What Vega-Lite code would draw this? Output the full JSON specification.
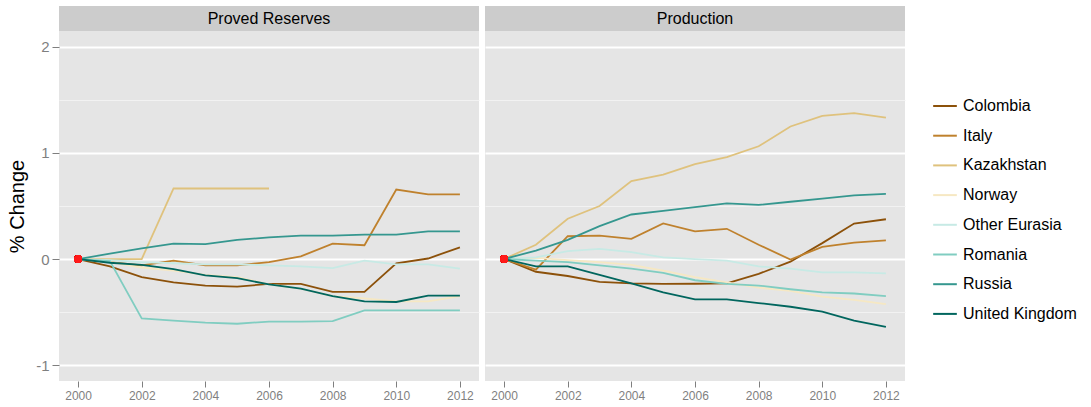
{
  "$schema": "https://vega.github.io/schema/vega-lite/v6.json",
  "padding": {"left": 7, "top": 6, "right": 5, "bottom": 5},
  "background": "white",
  "config": {
    "font": "Liberation Sans",
    "view": {"stroke": null},
    "concat": {"spacing": 6}
  },
  "datasets": {
    "d": [
      {"panel": "Proved Reserves", "country": "Colombia", "year": 2000, "value": 0},
      {"panel": "Proved Reserves", "country": "Colombia", "year": 2001, "value": -0.07},
      {"panel": "Proved Reserves", "country": "Colombia", "year": 2002, "value": -0.17},
      {"panel": "Proved Reserves", "country": "Colombia", "year": 2003, "value": -0.22},
      {"panel": "Proved Reserves", "country": "Colombia", "year": 2004, "value": -0.25},
      {"panel": "Proved Reserves", "country": "Colombia", "year": 2005, "value": -0.26},
      {"panel": "Proved Reserves", "country": "Colombia", "year": 2006, "value": -0.235},
      {"panel": "Proved Reserves", "country": "Colombia", "year": 2007, "value": -0.235},
      {"panel": "Proved Reserves", "country": "Colombia", "year": 2008, "value": -0.31},
      {"panel": "Proved Reserves", "country": "Colombia", "year": 2009, "value": -0.31},
      {"panel": "Proved Reserves", "country": "Colombia", "year": 2010, "value": -0.04},
      {"panel": "Proved Reserves", "country": "Colombia", "year": 2011, "value": 0.005},
      {"panel": "Proved Reserves", "country": "Colombia", "year": 2012, "value": 0.11},
      {"panel": "Proved Reserves", "country": "Italy", "year": 2000, "value": 0},
      {"panel": "Proved Reserves", "country": "Italy", "year": 2001, "value": -0.03},
      {"panel": "Proved Reserves", "country": "Italy", "year": 2002, "value": -0.06},
      {"panel": "Proved Reserves", "country": "Italy", "year": 2003, "value": -0.015},
      {"panel": "Proved Reserves", "country": "Italy", "year": 2004, "value": -0.06},
      {"panel": "Proved Reserves", "country": "Italy", "year": 2005, "value": -0.06},
      {"panel": "Proved Reserves", "country": "Italy", "year": 2006, "value": -0.03},
      {"panel": "Proved Reserves", "country": "Italy", "year": 2007, "value": 0.025},
      {"panel": "Proved Reserves", "country": "Italy", "year": 2008, "value": 0.145},
      {"panel": "Proved Reserves", "country": "Italy", "year": 2009, "value": 0.13},
      {"panel": "Proved Reserves", "country": "Italy", "year": 2010, "value": 0.655},
      {"panel": "Proved Reserves", "country": "Italy", "year": 2011, "value": 0.61},
      {"panel": "Proved Reserves", "country": "Italy", "year": 2012, "value": 0.61},
      {"panel": "Proved Reserves", "country": "Kazakhstan", "year": 2000, "value": 0},
      {"panel": "Proved Reserves", "country": "Kazakhstan", "year": 2001, "value": 0},
      {"panel": "Proved Reserves", "country": "Kazakhstan", "year": 2002, "value": 0},
      {"panel": "Proved Reserves", "country": "Kazakhstan", "year": 2003, "value": 0.665},
      {"panel": "Proved Reserves", "country": "Kazakhstan", "year": 2004, "value": 0.665},
      {"panel": "Proved Reserves", "country": "Kazakhstan", "year": 2005, "value": 0.665},
      {"panel": "Proved Reserves", "country": "Kazakhstan", "year": 2006, "value": 0.665},
      {"panel": "Proved Reserves", "country": "Norway", "year": 2000, "value": 0},
      {"panel": "Proved Reserves", "country": "Norway", "year": 2001, "value": -0.03},
      {"panel": "Proved Reserves", "country": "Norway", "year": 2002, "value": -0.08},
      {"panel": "Proved Reserves", "country": "Norway", "year": 2003, "value": -0.11},
      {"panel": "Proved Reserves", "country": "Norway", "year": 2004, "value": -0.15},
      {"panel": "Proved Reserves", "country": "Norway", "year": 2005, "value": -0.17},
      {"panel": "Proved Reserves", "country": "Norway", "year": 2006, "value": -0.24},
      {"panel": "Proved Reserves", "country": "Norway", "year": 2007, "value": -0.28},
      {"panel": "Proved Reserves", "country": "Norway", "year": 2008, "value": -0.35},
      {"panel": "Proved Reserves", "country": "Norway", "year": 2009, "value": -0.37},
      {"panel": "Proved Reserves", "country": "Norway", "year": 2010, "value": -0.4},
      {"panel": "Proved Reserves", "country": "Norway", "year": 2011, "value": -0.4},
      {"panel": "Proved Reserves", "country": "Norway", "year": 2012, "value": -0.35},
      {"panel": "Proved Reserves", "country": "Other Eurasia", "year": 2000, "value": 0},
      {"panel": "Proved Reserves", "country": "Other Eurasia", "year": 2001, "value": -0.01},
      {"panel": "Proved Reserves", "country": "Other Eurasia", "year": 2002, "value": -0.03},
      {"panel": "Proved Reserves", "country": "Other Eurasia", "year": 2003, "value": -0.04},
      {"panel": "Proved Reserves", "country": "Other Eurasia", "year": 2004, "value": -0.05},
      {"panel": "Proved Reserves", "country": "Other Eurasia", "year": 2005, "value": -0.05},
      {"panel": "Proved Reserves", "country": "Other Eurasia", "year": 2006, "value": -0.06},
      {"panel": "Proved Reserves", "country": "Other Eurasia", "year": 2007, "value": -0.07},
      {"panel": "Proved Reserves", "country": "Other Eurasia", "year": 2008, "value": -0.085},
      {"panel": "Proved Reserves", "country": "Other Eurasia", "year": 2009, "value": -0.015},
      {"panel": "Proved Reserves", "country": "Other Eurasia", "year": 2010, "value": -0.05},
      {"panel": "Proved Reserves", "country": "Other Eurasia", "year": 2011, "value": -0.05},
      {"panel": "Proved Reserves", "country": "Other Eurasia", "year": 2012, "value": -0.09},
      {"panel": "Proved Reserves", "country": "Romania", "year": 2000, "value": 0},
      {"panel": "Proved Reserves", "country": "Romania", "year": 2001, "value": -0.02},
      {"panel": "Proved Reserves", "country": "Romania", "year": 2002, "value": -0.56},
      {"panel": "Proved Reserves", "country": "Romania", "year": 2003, "value": -0.58},
      {"panel": "Proved Reserves", "country": "Romania", "year": 2004, "value": -0.6},
      {"panel": "Proved Reserves", "country": "Romania", "year": 2005, "value": -0.61},
      {"panel": "Proved Reserves", "country": "Romania", "year": 2006, "value": -0.59},
      {"panel": "Proved Reserves", "country": "Romania", "year": 2007, "value": -0.59},
      {"panel": "Proved Reserves", "country": "Romania", "year": 2008, "value": -0.585},
      {"panel": "Proved Reserves", "country": "Romania", "year": 2009, "value": -0.485},
      {"panel": "Proved Reserves", "country": "Romania", "year": 2010, "value": -0.485},
      {"panel": "Proved Reserves", "country": "Romania", "year": 2011, "value": -0.485},
      {"panel": "Proved Reserves", "country": "Romania", "year": 2012, "value": -0.485},
      {"panel": "Proved Reserves", "country": "Russia", "year": 2000, "value": 0},
      {"panel": "Proved Reserves", "country": "Russia", "year": 2001, "value": 0.05},
      {"panel": "Proved Reserves", "country": "Russia", "year": 2002, "value": 0.1},
      {"panel": "Proved Reserves", "country": "Russia", "year": 2003, "value": 0.145},
      {"panel": "Proved Reserves", "country": "Russia", "year": 2004, "value": 0.14},
      {"panel": "Proved Reserves", "country": "Russia", "year": 2005, "value": 0.18},
      {"panel": "Proved Reserves", "country": "Russia", "year": 2006, "value": 0.205},
      {"panel": "Proved Reserves", "country": "Russia", "year": 2007, "value": 0.22},
      {"panel": "Proved Reserves", "country": "Russia", "year": 2008, "value": 0.22},
      {"panel": "Proved Reserves", "country": "Russia", "year": 2009, "value": 0.23},
      {"panel": "Proved Reserves", "country": "Russia", "year": 2010, "value": 0.23},
      {"panel": "Proved Reserves", "country": "Russia", "year": 2011, "value": 0.26},
      {"panel": "Proved Reserves", "country": "Russia", "year": 2012, "value": 0.26},
      {"panel": "Proved Reserves", "country": "United Kingdom", "year": 2000, "value": 0},
      {"panel": "Proved Reserves", "country": "United Kingdom", "year": 2001, "value": -0.035},
      {"panel": "Proved Reserves", "country": "United Kingdom", "year": 2002, "value": -0.055},
      {"panel": "Proved Reserves", "country": "United Kingdom", "year": 2003, "value": -0.095},
      {"panel": "Proved Reserves", "country": "United Kingdom", "year": 2004, "value": -0.155},
      {"panel": "Proved Reserves", "country": "United Kingdom", "year": 2005, "value": -0.18},
      {"panel": "Proved Reserves", "country": "United Kingdom", "year": 2006, "value": -0.24},
      {"panel": "Proved Reserves", "country": "United Kingdom", "year": 2007, "value": -0.28},
      {"panel": "Proved Reserves", "country": "United Kingdom", "year": 2008, "value": -0.35},
      {"panel": "Proved Reserves", "country": "United Kingdom", "year": 2009, "value": -0.4},
      {"panel": "Proved Reserves", "country": "United Kingdom", "year": 2010, "value": -0.405},
      {"panel": "Proved Reserves", "country": "United Kingdom", "year": 2011, "value": -0.345},
      {"panel": "Proved Reserves", "country": "United Kingdom", "year": 2012, "value": -0.345},
      {"panel": "Production", "country": "Colombia", "year": 2000, "value": 0},
      {"panel": "Production", "country": "Colombia", "year": 2001, "value": -0.12},
      {"panel": "Production", "country": "Colombia", "year": 2002, "value": -0.16},
      {"panel": "Production", "country": "Colombia", "year": 2003, "value": -0.215},
      {"panel": "Production", "country": "Colombia", "year": 2004, "value": -0.23},
      {"panel": "Production", "country": "Colombia", "year": 2005, "value": -0.235},
      {"panel": "Production", "country": "Colombia", "year": 2006, "value": -0.233},
      {"panel": "Production", "country": "Colombia", "year": 2007, "value": -0.23},
      {"panel": "Production", "country": "Colombia", "year": 2008, "value": -0.14},
      {"panel": "Production", "country": "Colombia", "year": 2009, "value": -0.025},
      {"panel": "Production", "country": "Colombia", "year": 2010, "value": 0.15},
      {"panel": "Production", "country": "Colombia", "year": 2011, "value": 0.335},
      {"panel": "Production", "country": "Colombia", "year": 2012, "value": 0.375},
      {"panel": "Production", "country": "Italy", "year": 2000, "value": 0},
      {"panel": "Production", "country": "Italy", "year": 2001, "value": -0.1},
      {"panel": "Production", "country": "Italy", "year": 2002, "value": 0.215},
      {"panel": "Production", "country": "Italy", "year": 2003, "value": 0.22},
      {"panel": "Production", "country": "Italy", "year": 2004, "value": 0.19},
      {"panel": "Production", "country": "Italy", "year": 2005, "value": 0.335},
      {"panel": "Production", "country": "Italy", "year": 2006, "value": 0.26},
      {"panel": "Production", "country": "Italy", "year": 2007, "value": 0.285},
      {"panel": "Production", "country": "Italy", "year": 2008, "value": 0.135},
      {"panel": "Production", "country": "Italy", "year": 2009, "value": -0.005},
      {"panel": "Production", "country": "Italy", "year": 2010, "value": 0.115},
      {"panel": "Production", "country": "Italy", "year": 2011, "value": 0.155},
      {"panel": "Production", "country": "Italy", "year": 2012, "value": 0.175},
      {"panel": "Production", "country": "Kazakhstan", "year": 2000, "value": 0},
      {"panel": "Production", "country": "Kazakhstan", "year": 2001, "value": 0.135},
      {"panel": "Production", "country": "Kazakhstan", "year": 2002, "value": 0.38},
      {"panel": "Production", "country": "Kazakhstan", "year": 2003, "value": 0.5},
      {"panel": "Production", "country": "Kazakhstan", "year": 2004, "value": 0.735},
      {"panel": "Production", "country": "Kazakhstan", "year": 2005, "value": 0.795},
      {"panel": "Production", "country": "Kazakhstan", "year": 2006, "value": 0.895},
      {"panel": "Production", "country": "Kazakhstan", "year": 2007, "value": 0.96},
      {"panel": "Production", "country": "Kazakhstan", "year": 2008, "value": 1.063},
      {"panel": "Production", "country": "Kazakhstan", "year": 2009, "value": 1.25},
      {"panel": "Production", "country": "Kazakhstan", "year": 2010, "value": 1.35},
      {"panel": "Production", "country": "Kazakhstan", "year": 2011, "value": 1.375},
      {"panel": "Production", "country": "Kazakhstan", "year": 2012, "value": 1.333},
      {"panel": "Production", "country": "Norway", "year": 2000, "value": 0},
      {"panel": "Production", "country": "Norway", "year": 2001, "value": 0.01},
      {"panel": "Production", "country": "Norway", "year": 2002, "value": -0.01},
      {"panel": "Production", "country": "Norway", "year": 2003, "value": -0.03},
      {"panel": "Production", "country": "Norway", "year": 2004, "value": -0.055},
      {"panel": "Production", "country": "Norway", "year": 2005, "value": -0.11},
      {"panel": "Production", "country": "Norway", "year": 2006, "value": -0.17},
      {"panel": "Production", "country": "Norway", "year": 2007, "value": -0.22},
      {"panel": "Production", "country": "Norway", "year": 2008, "value": -0.27},
      {"panel": "Production", "country": "Norway", "year": 2009, "value": -0.3},
      {"panel": "Production", "country": "Norway", "year": 2010, "value": -0.355},
      {"panel": "Production", "country": "Norway", "year": 2011, "value": -0.385},
      {"panel": "Production", "country": "Norway", "year": 2012, "value": -0.425},
      {"panel": "Production", "country": "Other Eurasia", "year": 2000, "value": 0},
      {"panel": "Production", "country": "Other Eurasia", "year": 2001, "value": 0.015},
      {"panel": "Production", "country": "Other Eurasia", "year": 2002, "value": 0.075},
      {"panel": "Production", "country": "Other Eurasia", "year": 2003, "value": 0.095},
      {"panel": "Production", "country": "Other Eurasia", "year": 2004, "value": 0.065},
      {"panel": "Production", "country": "Other Eurasia", "year": 2005, "value": 0.015},
      {"panel": "Production", "country": "Other Eurasia", "year": 2006, "value": 0},
      {"panel": "Production", "country": "Other Eurasia", "year": 2007, "value": -0.015},
      {"panel": "Production", "country": "Other Eurasia", "year": 2008, "value": -0.07},
      {"panel": "Production", "country": "Other Eurasia", "year": 2009, "value": -0.09},
      {"panel": "Production", "country": "Other Eurasia", "year": 2010, "value": -0.125},
      {"panel": "Production", "country": "Other Eurasia", "year": 2011, "value": -0.125},
      {"panel": "Production", "country": "Other Eurasia", "year": 2012, "value": -0.135},
      {"panel": "Production", "country": "Romania", "year": 2000, "value": 0},
      {"panel": "Production", "country": "Romania", "year": 2001, "value": -0.015},
      {"panel": "Production", "country": "Romania", "year": 2002, "value": -0.03},
      {"panel": "Production", "country": "Romania", "year": 2003, "value": -0.06},
      {"panel": "Production", "country": "Romania", "year": 2004, "value": -0.09},
      {"panel": "Production", "country": "Romania", "year": 2005, "value": -0.13},
      {"panel": "Production", "country": "Romania", "year": 2006, "value": -0.2},
      {"panel": "Production", "country": "Romania", "year": 2007, "value": -0.235},
      {"panel": "Production", "country": "Romania", "year": 2008, "value": -0.25},
      {"panel": "Production", "country": "Romania", "year": 2009, "value": -0.285},
      {"panel": "Production", "country": "Romania", "year": 2010, "value": -0.315},
      {"panel": "Production", "country": "Romania", "year": 2011, "value": -0.325},
      {"panel": "Production", "country": "Romania", "year": 2012, "value": -0.35},
      {"panel": "Production", "country": "Russia", "year": 2000, "value": 0},
      {"panel": "Production", "country": "Russia", "year": 2001, "value": 0.08},
      {"panel": "Production", "country": "Russia", "year": 2002, "value": 0.18},
      {"panel": "Production", "country": "Russia", "year": 2003, "value": 0.31},
      {"panel": "Production", "country": "Russia", "year": 2004, "value": 0.42},
      {"panel": "Production", "country": "Russia", "year": 2005, "value": 0.455},
      {"panel": "Production", "country": "Russia", "year": 2006, "value": 0.49},
      {"panel": "Production", "country": "Russia", "year": 2007, "value": 0.525},
      {"panel": "Production", "country": "Russia", "year": 2008, "value": 0.51},
      {"panel": "Production", "country": "Russia", "year": 2009, "value": 0.54},
      {"panel": "Production", "country": "Russia", "year": 2010, "value": 0.57},
      {"panel": "Production", "country": "Russia", "year": 2011, "value": 0.6},
      {"panel": "Production", "country": "Russia", "year": 2012, "value": 0.615},
      {"panel": "Production", "country": "United Kingdom", "year": 2000, "value": 0},
      {"panel": "Production", "country": "United Kingdom", "year": 2001, "value": -0.07},
      {"panel": "Production", "country": "United Kingdom", "year": 2002, "value": -0.07},
      {"panel": "Production", "country": "United Kingdom", "year": 2003, "value": -0.15},
      {"panel": "Production", "country": "United Kingdom", "year": 2004, "value": -0.23},
      {"panel": "Production", "country": "United Kingdom", "year": 2005, "value": -0.315},
      {"panel": "Production", "country": "United Kingdom", "year": 2006, "value": -0.38},
      {"panel": "Production", "country": "United Kingdom", "year": 2007, "value": -0.38},
      {"panel": "Production", "country": "United Kingdom", "year": 2008, "value": -0.415},
      {"panel": "Production", "country": "United Kingdom", "year": 2009, "value": -0.45},
      {"panel": "Production", "country": "United Kingdom", "year": 2010, "value": -0.495},
      {"panel": "Production", "country": "United Kingdom", "year": 2011, "value": -0.58},
      {"panel": "Production", "country": "United Kingdom", "year": 2012, "value": -0.64}
    ]
  },
  "hconcat": [
    {
      "spacing": 0,
      "vconcat": [
        {
          "width": 420,
          "height": 25,
          "data": {"values": [{"label": "Proved Reserves"}]},
          "view": {"fill": "#cccccc", "stroke": null},
          "mark": {"type": "text", "fontSize": 16, "color": "#000000"},
          "encoding": {"text": {"field": "label", "type": "nominal"}}
        },
        {
          "width": 420,
          "height": 350,
          "view": {"fill": "#e5e5e5", "stroke": null},
          "data": {"name": "d"},
          "transform": [{"filter": "datum.panel === 'Proved Reserves'"}],
          "encoding": {
            "x": {
              "field": "year", "type": "quantitative",
              "scale": {"domain": [1999.4, 2012.6], "nice": false, "zero": false},
              "axis": {
                "values": [2000, 2002, 2004, 2006, 2008, 2010, 2012],
                "format": "d", "grid": false, "domain": false, "title": null,
                "tickColor": "#7f7f7f", "tickSize": 6, "tickWidth": 1,
                "labelColor": "#7f7f7f", "labelFontSize": 12, "labelPadding": 3
              }
            },
            "y": {
              "field": "value", "type": "quantitative",
              "scale": {"domain": [-1.15, 2.15], "nice": false, "zero": false},
              "axis": {
                "values": [-1, -0.5, 0, 0.5, 1, 1.5, 2],
                "labelExpr": "datum.value % 1 === 0 ? ((datum.value < 0 ? '-' : '') + abs(datum.value)) : ''",
                "grid": true,
                "gridColor": {"condition": {"test": "datum.value % 1 !== 0", "value": "#f2f2f2"}, "value": "#ffffff"},
                "gridWidth": {"condition": {"test": "datum.value % 1 !== 0", "value": 1}, "value": 2},
                "tickOpacity": {"condition": {"test": "datum.value % 1 !== 0", "value": 0}, "value": 1},
                "domain": false,
                "tickColor": "#7f7f7f", "tickSize": 7, "tickWidth": 1,
                "labelColor": "#7f7f7f", "labelFontSize": 15, "labelPadding": 3,
                "title": "% Change", "titleFontSize": 20, "titleFontWeight": "normal",
                "titleColor": "#000000", "titleX": -32, "titleY": 175
              }
            }
          },
          "layer": [
            {
              "mark": {"type": "line", "strokeWidth": 1.8},
              "encoding": {
                "color": {
                  "field": "country", "type": "nominal",
                  "scale": {
                    "domain": ["Colombia", "Italy", "Kazakhstan", "Norway", "Other Eurasia", "Romania", "Russia", "United Kingdom"],
                    "range": ["#8c510a", "#bf812d", "#dfc27d", "#f6e8c3", "#c7eae5", "#80cdc1", "#35978f", "#01665e"]
                  },
                  "legend": {
                    "orient": "none", "legendX": 873, "legendY": 87,
                    "title": null, "symbolType": "stroke", "symbolSize": 560,
                    "symbolStrokeWidth": 2, "labelFontSize": 16, "labelColor": "#000000",
                    "rowPadding": 8.7, "labelOffset": 5, "padding": 0
                  }
                }
              }
            },
            {
              "mark": {"type": "rule", "color": "#ff0000", "opacity": 0.5, "strokeWidth": 2},
              "encoding": {"y": {"datum": 0}}
            },
            {
              "mark": {"type": "circle", "color": "#ff1a1a", "size": 55, "opacity": 1},
              "encoding": {"x": {"datum": 2000}, "y": {"datum": 0}}
            }
          ]
        }
      ]
    },
    {
      "spacing": 0,
      "vconcat": [
        {
          "width": 420,
          "height": 25,
          "data": {"values": [{"label": "Production"}]},
          "view": {"fill": "#cccccc", "stroke": null},
          "mark": {"type": "text", "fontSize": 16, "color": "#000000"},
          "encoding": {"text": {"field": "label", "type": "nominal"}}
        },
        {
          "width": 420,
          "height": 350,
          "view": {"fill": "#e5e5e5", "stroke": null},
          "data": {"name": "d"},
          "transform": [{"filter": "datum.panel === 'Production'"}],
          "encoding": {
            "x": {
              "field": "year", "type": "quantitative",
              "scale": {"domain": [1999.4, 2012.6], "nice": false, "zero": false},
              "axis": {
                "values": [2000, 2002, 2004, 2006, 2008, 2010, 2012],
                "format": "d", "grid": false, "domain": false, "title": null,
                "tickColor": "#7f7f7f", "tickSize": 6, "tickWidth": 1,
                "labelColor": "#7f7f7f", "labelFontSize": 12, "labelPadding": 3
              }
            },
            "y": {
              "field": "value", "type": "quantitative",
              "scale": {"domain": [-1.15, 2.15], "nice": false, "zero": false},
              "axis": {
                "values": [-1, -0.5, 0, 0.5, 1, 1.5, 2],
                "grid": true,
                "gridColor": {"condition": {"test": "datum.value % 1 !== 0", "value": "#f2f2f2"}, "value": "#ffffff"},
                "gridWidth": {"condition": {"test": "datum.value % 1 !== 0", "value": 1}, "value": 2},
                "domain": false, "ticks": false, "labels": false, "title": null
              }
            }
          },
          "layer": [
            {
              "mark": {"type": "line", "strokeWidth": 1.8},
              "encoding": {
                "color": {"field": "country", "type": "nominal"}
              }
            },
            {
              "mark": {"type": "rule", "color": "#ff0000", "opacity": 0.5, "strokeWidth": 2},
              "encoding": {"y": {"datum": 0}}
            },
            {
              "mark": {"type": "circle", "color": "#ff1a1a", "size": 55, "opacity": 1},
              "encoding": {"x": {"datum": 2000}, "y": {"datum": 0}}
            }
          ]
        }
      ]
    }
  ]
}
